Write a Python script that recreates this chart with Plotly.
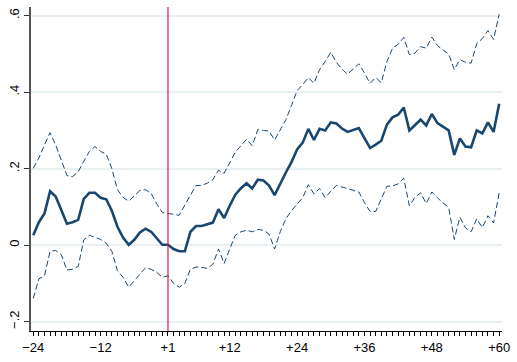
import plotly.graph_objects as go

# Event time: months before (-24..-1) and after (+1..+60) the event; there is no month 0
periods = list(range(-24, 0)) + list(range(1, 61))

estimate = [
    0.026, 0.060, 0.083, 0.141, 0.127, 0.090, 0.056, 0.060, 0.066, 0.121,
    0.137, 0.137, 0.124, 0.120, 0.090, 0.048, 0.020, 0.001, 0.014, 0.033,
    0.043, 0.035, 0.018, 0.001, 0.001, -0.010, -0.016, -0.016, 0.035, 0.050,
    0.050, 0.054, 0.059, 0.094, 0.071, 0.103, 0.132, 0.149, 0.162, 0.148,
    0.171, 0.169, 0.156, 0.131, 0.162, 0.190, 0.217, 0.250, 0.268, 0.304,
    0.275, 0.304, 0.300, 0.321, 0.318, 0.305, 0.296, 0.300, 0.306, 0.280,
    0.254, 0.263, 0.273, 0.315, 0.334, 0.341, 0.360, 0.300, 0.314, 0.328,
    0.313, 0.343, 0.319, 0.310, 0.300, 0.236, 0.279, 0.258, 0.256, 0.300,
    0.292, 0.321, 0.296, 0.370,
]

ci_upper = [
    0.201, 0.228, 0.262, 0.294, 0.262, 0.222, 0.182, 0.179, 0.192, 0.219,
    0.245, 0.258, 0.245, 0.238, 0.200, 0.145, 0.125, 0.115, 0.130, 0.143,
    0.145, 0.135, 0.108, 0.085, 0.083, 0.080, 0.078, 0.105, 0.132, 0.156,
    0.156, 0.162, 0.171, 0.196, 0.188, 0.215, 0.243, 0.260, 0.277, 0.260,
    0.302, 0.300, 0.298, 0.275, 0.300, 0.328, 0.365, 0.404, 0.420, 0.438,
    0.423, 0.459, 0.480, 0.504, 0.478, 0.460, 0.447, 0.460, 0.474, 0.450,
    0.423, 0.438, 0.425, 0.480, 0.515, 0.525, 0.543, 0.498, 0.502, 0.519,
    0.515, 0.544, 0.522, 0.510, 0.500, 0.459, 0.485, 0.478, 0.476, 0.527,
    0.540, 0.561, 0.538, 0.604,
]

ci_lower = [
    -0.139, -0.088, -0.080, -0.016, -0.014, -0.025, -0.065, -0.063, -0.056, 0.014,
    0.026, 0.020, 0.015, 0.005, -0.016, -0.067, -0.084, -0.110, -0.093, -0.076,
    -0.059, -0.063, -0.071, -0.084, -0.080, -0.100, -0.110, -0.100, -0.063, -0.057,
    -0.058, -0.061, -0.050, -0.010, -0.048, -0.010, 0.026, 0.035, 0.039, 0.035,
    0.041, 0.039, 0.029, -0.010, 0.035, 0.069, 0.090, 0.107, 0.124, 0.158,
    0.134, 0.148, 0.124, 0.141, 0.156, 0.152, 0.148, 0.143, 0.139, 0.111,
    0.088, 0.088, 0.120, 0.154, 0.155, 0.160, 0.175, 0.103, 0.125, 0.137,
    0.109, 0.139, 0.124, 0.110, 0.099, 0.015, 0.073, 0.045, 0.035, 0.069,
    0.046, 0.077, 0.058, 0.137,
]

x_tick_periods = [-24, -12, 1, 12, 24, 36, 48, 60]
x_tick_labels = ["\u221224", "\u221212", "+1", "+12", "+24", "+36", "+48", "+60"]
y_tick_values = [-0.2, 0, 0.2, 0.4, 0.6]
y_tick_labels = ["\u2212.2", "0", ".2", ".4", ".6"]
event_period = 1

# Each period is drawn at its ordinal position so the gap at month 0 is closed
pos = list(range(len(periods)))
x_tick_pos = [periods.index(p) for p in x_tick_periods]
event_pos = periods.index(event_period)
x_range = [-0.4, 83.5]

navy = "#1a476f"
fig = go.Figure()
fig.add_trace(go.Scatter(x=pos, y=ci_upper, mode="lines",
                         line=dict(color=navy, width=1, dash="6px,3px")))
fig.add_trace(go.Scatter(x=pos, y=ci_lower, mode="lines",
                         line=dict(color=navy, width=1, dash="6px,3px")))
fig.add_trace(go.Scatter(x=pos, y=estimate, mode="lines",
                         line=dict(color=navy, width=2.6)))

fig.add_shape(type="line", x0=event_pos, x1=event_pos, xref="x",
              y0=0, y1=1, yref="paper",
              line=dict(color="#d41a4a", width=1.2))

font = dict(family="Liberation Sans, Arial, sans-serif", size=13, color="black")
fig.update_layout(
    width=517, height=362,
    margin=dict(l=31, r=10, t=7, b=24),
    paper_bgcolor="white", plot_bgcolor="white",
    showlegend=False,
    font=font,
    xaxis=dict(
        range=x_range,
        tickmode="array", tickvals=x_tick_pos, ticktext=x_tick_labels,
        ticks="outside", ticklen=4, tickwidth=1, tickcolor="black",
        showline=True, linecolor="black", linewidth=1,
        showgrid=False, zeroline=False,
        tickfont=font,
    ),
    # overlay axis carrying a tick for every month
    xaxis2=dict(
        overlaying="x", side="bottom", matches="x", range=x_range,
        tickmode="array", tickvals=pos, showticklabels=False,
        ticks="outside", ticklen=4, tickwidth=1, tickcolor="black",
        showline=False, showgrid=False, zeroline=False,
    ),
    yaxis=dict(
        range=[-0.2244, 0.6226],
        tickmode="array", tickvals=y_tick_values, ticktext=y_tick_labels,
        tickangle=-90,
        ticks="outside", ticklen=5, tickwidth=1, tickcolor="#333",
        showline=True, linecolor="#555", linewidth=1.6,
        showgrid=True, gridcolor="#e9f0f2", gridwidth=1.5,
        zeroline=False,
        tickfont=font,
    ),
)
# an invisible trace anchors the overlay axis
fig.add_trace(go.Scatter(x=[pos[0]], y=[None], xaxis="x2", mode="lines",
                         hoverinfo="skip", showlegend=False))

fig.write_html("out.html")
